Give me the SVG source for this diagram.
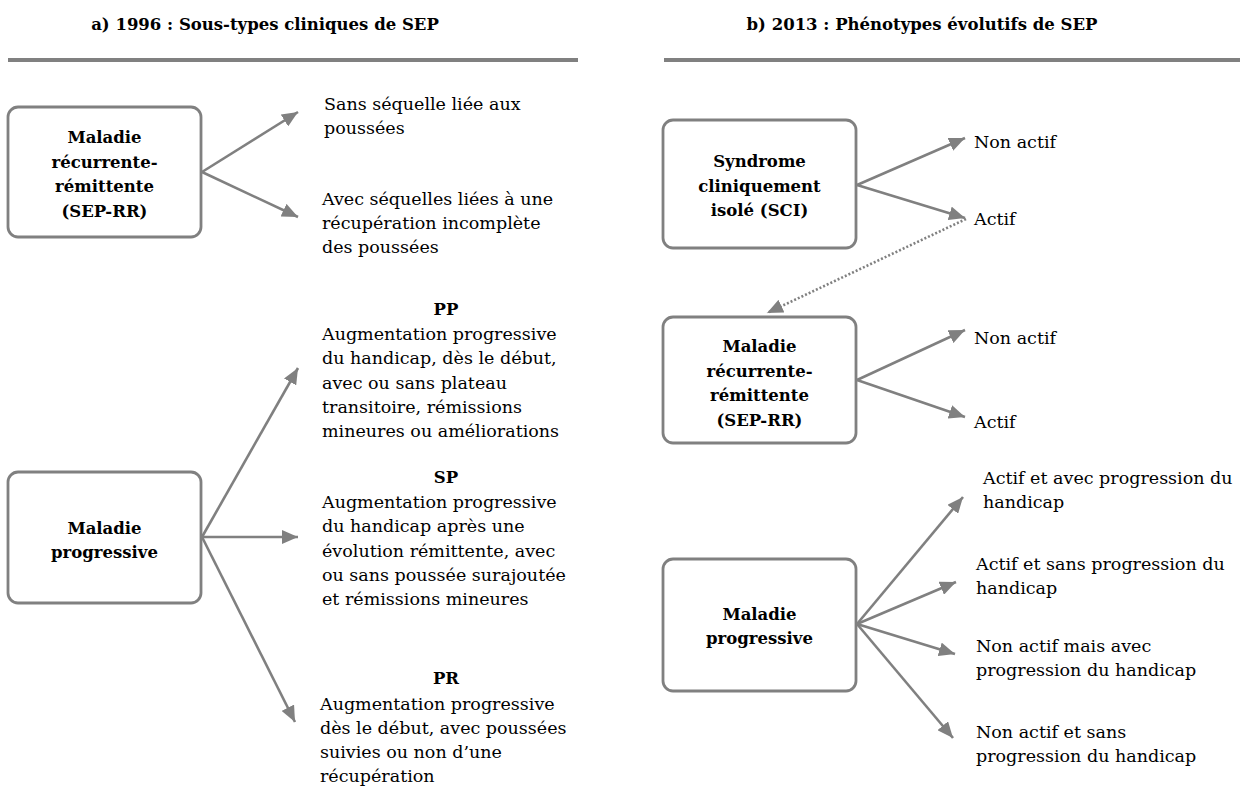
<svg xmlns="http://www.w3.org/2000/svg" width="1246" height="787" viewBox="0 0 1246 787">
  <style>
    .bg { fill: #ffffff; }
    .rule { stroke: #808080; stroke-width: 4; }
    .box { fill: #ffffff; stroke: #808080; stroke-width: 2.8; }
    .edge { stroke: #808080; stroke-width: 2.6; fill: none; marker-end: url(#head); }
    .dotted { stroke: #808080; stroke-width: 2.6; fill: none; stroke-dasharray: 2 2; marker-end: url(#head); }
    .title { font-family: "DejaVu Serif", "Liberation Serif", serif; font-weight: bold; font-size: 16.5px; fill: #000; text-anchor: middle; }
    .label { font-family: "DejaVu Serif", "Liberation Serif", serif; font-weight: bold; font-size: 16.5px; fill: #000; text-anchor: middle; }
    .txt { font-family: "DejaVu Serif", "Liberation Serif", serif; font-size: 17.5px; fill: #000; }
    .sub { font-family: "DejaVu Serif", "Liberation Serif", serif; font-weight: bold; font-size: 16.5px; fill: #000; text-anchor: middle; }
  </style>
  <defs>
    <marker id="head" markerUnits="userSpaceOnUse" markerWidth="17" markerHeight="14" refX="16" refY="7" orient="auto">
      <path d="M0,0 L16,7 L0,14 z" fill="#808080"/>
    </marker>
  </defs>

  <rect class="bg" x="0" y="0" width="1246" height="787"/>

  <!-- section headings -->
  <g id="heading-a">
    <text class="title" x="265" y="30">a) 1996 : Sous-types cliniques de SEP</text>
    <line class="rule" x1="8" y1="60" x2="578" y2="60"/>
  </g>
  <g id="heading-b">
    <text class="title" x="922" y="30">b) 2013 : Phénotypes évolutifs de SEP</text>
    <line class="rule" x1="664" y1="60" x2="1240" y2="60"/>
  </g>

  <!-- connectors -->
  <g id="connectors">
    <line class="edge" x1="202" y1="172" x2="298" y2="112"/>
    <line class="edge" x1="202" y1="172" x2="298" y2="217"/>
    <line class="edge" x1="202" y1="537" x2="298" y2="368"/>
    <line class="edge" x1="202" y1="537" x2="298" y2="537"/>
    <line class="edge" x1="202" y1="537" x2="295" y2="722"/>

    <line class="edge" x1="857" y1="185" x2="965" y2="138"/>
    <line class="edge" x1="857" y1="185" x2="965" y2="218"/>
    <line class="dotted" x1="966" y1="219" x2="767" y2="313"/>
    <line class="edge" x1="857" y1="380" x2="965" y2="330"/>
    <line class="edge" x1="857" y1="380" x2="965" y2="417"/>
    <line class="edge" x1="857" y1="624" x2="963" y2="497"/>
    <line class="edge" x1="857" y1="624" x2="956" y2="582"/>
    <line class="edge" x1="857" y1="624" x2="955" y2="654"/>
    <line class="edge" x1="857" y1="624" x2="953" y2="738"/>
  </g>

  <!-- 1996 classification -->
  <g id="node-rr-1996">
    <rect class="box" x="8" y="107" width="193" height="130" rx="10"/>
    <text class="label" x="104.5" y="143">Maladie</text>
    <text class="label" x="104.5" y="167.5">récurrente-</text>
    <text class="label" x="104.5" y="192">rémittente</text>
    <text class="label" x="104.5" y="216.5">(SEP-RR)</text>
  </g>
  <g id="rr-sans-sequelle">
    <text class="txt" x="324" y="110">Sans séquelle liée aux</text>
    <text class="txt" x="324" y="134">poussées</text>
  </g>
  <g id="rr-avec-sequelles">
    <text class="txt" x="322" y="205">Avec séquelles liées à une</text>
    <text class="txt" x="322" y="229">récupération incomplète</text>
    <text class="txt" x="322" y="253">des poussées</text>
  </g>

  <g id="node-prog-1996">
    <rect class="box" x="8" y="472" width="193" height="131" rx="10"/>
    <text class="label" x="104.5" y="534">Maladie</text>
    <text class="label" x="104.5" y="558">progressive</text>
  </g>
  <g id="pp">
    <text class="sub" x="446" y="315">PP</text>
    <text class="txt" x="322" y="340">Augmentation progressive</text>
    <text class="txt" x="322" y="364">du handicap, dès le début,</text>
    <text class="txt" x="322" y="388.5">avec ou sans plateau</text>
    <text class="txt" x="322" y="413">transitoire, rémissions</text>
    <text class="txt" x="322" y="437">mineures ou améliorations</text>
  </g>
  <g id="sp">
    <text class="sub" x="446" y="483">SP</text>
    <text class="txt" x="322" y="508">Augmentation progressive</text>
    <text class="txt" x="322" y="532">du handicap après une</text>
    <text class="txt" x="322" y="557">évolution rémittente, avec</text>
    <text class="txt" x="322" y="581">ou sans poussée surajoutée</text>
    <text class="txt" x="322" y="605">et rémissions mineures</text>
  </g>
  <g id="pr">
    <text class="sub" x="446" y="684">PR</text>
    <text class="txt" x="320" y="710">Augmentation progressive</text>
    <text class="txt" x="320" y="734">dès le début, avec poussées</text>
    <text class="txt" x="320" y="758">suivies ou non d’une</text>
    <text class="txt" x="320" y="782">récupération</text>
  </g>

  <!-- 2013 phenotypes -->
  <g id="node-sci">
    <rect class="box" x="663" y="120" width="193" height="128" rx="10"/>
    <text class="label" x="759.5" y="167">Syndrome</text>
    <text class="label" x="759.5" y="191.5">cliniquement</text>
    <text class="label" x="759.5" y="216">isolé (SCI)</text>
  </g>
  <g id="sci-outcomes">
    <text class="txt" x="974" y="148">Non actif</text>
    <text class="txt" x="974" y="225">Actif</text>
  </g>

  <g id="node-rr-2013">
    <rect class="box" x="663" y="317" width="193" height="126" rx="10"/>
    <text class="label" x="759.5" y="352">Maladie</text>
    <text class="label" x="759.5" y="376.5">récurrente-</text>
    <text class="label" x="759.5" y="401">rémittente</text>
    <text class="label" x="759.5" y="425.5">(SEP-RR)</text>
  </g>
  <g id="rr-outcomes">
    <text class="txt" x="974" y="344">Non actif</text>
    <text class="txt" x="974" y="428">Actif</text>
  </g>

  <g id="node-prog-2013">
    <rect class="box" x="663" y="559" width="193" height="132" rx="10"/>
    <text class="label" x="759.5" y="620">Maladie</text>
    <text class="label" x="759.5" y="644">progressive</text>
  </g>
  <g id="prog-outcomes">
    <text class="txt" x="983" y="484">Actif et avec progression du</text>
    <text class="txt" x="983" y="508">handicap</text>
    <text class="txt" x="976" y="570">Actif et sans progression du</text>
    <text class="txt" x="976" y="594">handicap</text>
    <text class="txt" x="976" y="652">Non actif mais avec</text>
    <text class="txt" x="976" y="676">progression du handicap</text>
    <text class="txt" x="976" y="738">Non actif et sans</text>
    <text class="txt" x="976" y="762">progression du handicap</text>
  </g>
</svg>
